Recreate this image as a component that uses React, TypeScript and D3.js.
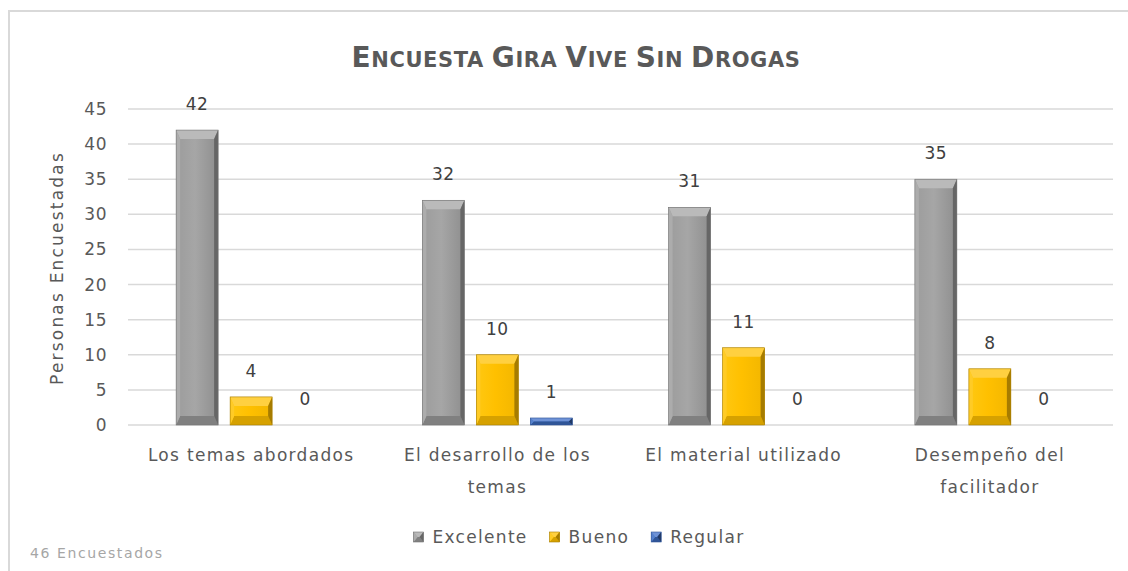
import React from "react";
import * as d3 from "d3";

const categories = [
  "Los temas abordados",
  "El desarrollo de los temas",
  "El material utilizado",
  "Desempeño del facilitador",
];
const seriesNames = ["Excelente", "Bueno", "Regular"];
const excelente = [42, 32, 31, 35];
const bueno = [4, 10, 11, 8];
const regular = [0, 1, 0, 0];
const yTicks = [0, 5, 10, 15, 20, 25, 30, 35, 40, 45];
const title = "Encuesta Gira Vive Sin Drogas";
const yTitle = "Personas Encuestadas";
const footnote = "46 Encuestados";

const W = 1128;
const H = 571;
const FONT = "'DejaVu Sans', sans-serif";

type Pal = { face: string; faceL: string; faceR: string; top: string; bottom: string; left: string; right: string; stroke: string };
const palettes: Pal[] = [
  { face: "#a6a6a6", faceL: "#9c9c9c", faceR: "#8e8e8e", top: "#bababa", bottom: "#808080", left: "#acacac", right: "#666666", stroke: "#737373" },
  { face: "#ffc000", faceL: "#ffc812", faceR: "#f2b600", top: "#ffd040", bottom: "#d6a100", left: "#ffcb26", right: "#a67c00", stroke: "#a67c00" },
  { face: "#4472c4", faceL: "#4a79cc", faceR: "#3c66b2", top: "#6e92d6", bottom: "#2f5597", left: "#5580cc", right: "#203864", stroke: "#2f5597" },
];

function measure(text: string, font: string, ls: number) {
  const c = document.createElement("canvas").getContext("2d");
  if (!c) return text.length * 9;
  c.font = font;
  return c.measureText(text).width + ls * text.length;
}

function wrap(text: string, maxW: number, font: string, ls: number) {
  const words = text.split(" ");
  const lines: string[] = [];
  let cur = "";
  for (const w of words) {
    const t = cur ? cur + " " + w : w;
    if (measure(t, font, ls) > maxW && cur) {
      lines.push(cur);
      cur = w;
    } else cur = t;
  }
  if (cur) lines.push(cur);
  return lines;
}

function Bevel({ x, y, w, h, pal, keyId }: { x: number; y: number; w: number; h: number; pal: Pal; keyId: string }) {
  if (h <= 0) return null;
  const s = Math.min(4, w / 2, h / 2);
  const t = Math.min(9, h / 2);
  const p = (pts: number[][]) => pts.map((q) => q.join(",")).join(" ");
  return (
    <g>
      <rect x={x} y={y} width={w} height={h} fill={`url(#g-${keyId})`} />
      <polygon points={p([[x, y], [x + w, y], [x + w - s, y + t], [x + s, y + t]])} fill={pal.top} />
      <polygon points={p([[x, y + h], [x + w, y + h], [x + w - s, y + h - t], [x + s, y + h - t]])} fill={pal.bottom} />
      <polygon points={p([[x, y], [x + s, y + t], [x + s, y + h - t], [x, y + h]])} fill={pal.left} />
      <polygon points={p([[x + w, y], [x + w - s, y + t], [x + w - s, y + h - t], [x + w, y + h]])} fill={pal.right} />
      <rect x={x} y={y} width={w} height={h} fill="none" stroke={pal.stroke} strokeWidth={0.6} />
    </g>
  );
}

export default function App() {
  const left = 128;
  const right = 1113;
  const y = d3.scaleLinear().domain([0, 45]).range([425, 109]);
  const x0 = d3.scaleBand<string>().domain(categories).range([left, right]).padding(0);
  const x1 = d3.scaleBand<string>().domain(seriesNames).range([-75, 75]).paddingInner(12 / 54).paddingOuter(0);
  const data = [excelente, bueno, regular];
  const labFont = `17px ${FONT}`;
  const labLS = 1.3;

  const titleWords = title.toUpperCase().split(" ");

  return (
    <svg width={W} height={H} style={{ position: "absolute", left: 0, top: 0, background: "#fff" }} fontFamily={FONT}>
      <defs>
        {palettes.map((pal, i) => (
          <linearGradient key={i} id={`g-s${i}`} x1="0" x2="1" y1="0" y2="0">
            <stop offset="0" stopColor={pal.faceL} />
            <stop offset="0.45" stopColor={pal.face} />
            <stop offset="1" stopColor={pal.faceR} />
          </linearGradient>
        ))}
      </defs>
      <rect x={9} y={11} width={W + 10} height={H + 10} fill="#fff" stroke="#d9d9d9" strokeWidth={2} />

      {/* title */}
      <text x={576} y={67} textAnchor="middle" fill="#595959" fontWeight="bold" style={{ letterSpacing: "0.6px" }}>
        {titleWords.map((w, i) => (
          <React.Fragment key={i}>
            <tspan fontSize={28}>{w[0]}</tspan>
            <tspan fontSize={21}>{w.slice(1) + (i < titleWords.length - 1 ? " " : "")}</tspan>
          </React.Fragment>
        ))}
      </text>

      {/* gridlines */}
      {yTicks.map((t) => (
        <g key={t}>
          <line x1={left} x2={right} y1={y(t)} y2={y(t)} stroke="#d9d9d9" strokeWidth={1.5} />
          <text x={107} y={y(t) + 6} textAnchor="end" fontSize={17} fill="#595959" style={{ letterSpacing: "0.5px" }}>
            {t}
          </text>
        </g>
      ))}

      {/* y title */}
      <text
        transform={`translate(63, ${(y(0) + y(45)) / 2 + 1}) rotate(-90)`}
        textAnchor="middle"
        fontSize={17}
        fill="#595959"
        style={{ letterSpacing: "2.2px" }}
      >
        {yTitle}
      </text>

      {/* bars */}
      {categories.map((c, ci) => {
        const cx = (x0(c) ?? 0) + x0.bandwidth() / 2;
        return (
          <g key={c}>
            {seriesNames.map((s, si) => {
              const v = data[si][ci];
              const bx = cx + (x1(s) ?? 0);
              const bw = x1.bandwidth();
              const top = y(v);
              return (
                <g key={s}>
                  <Bevel x={bx} y={top} w={bw} h={y(0) - top} pal={palettes[si]} keyId={`s${si}`} />
                  <text x={bx + bw / 2} y={top - 20} textAnchor="middle" fontSize={17} fill="#404040" style={{ letterSpacing: "0.5px" }}>
                    {v}
                  </text>
                </g>
              );
            })}
            {wrap(c, 228, labFont, labLS).map((line, li) => (
              <text
                key={li}
                x={cx}
                y={461 + li * 32}
                textAnchor="middle"
                fontSize={17}
                fill="#595959"
                style={{ letterSpacing: `${labLS}px` }}
              >
                {line}
              </text>
            ))}
          </g>
        );
      })}

      {/* legend */}
      {(() => {
        const items = seriesNames.map((s) => ({ s, w: measure(s, labFont, labLS) }));
        const sw = 10;
        const gap = 9;
        const itemGap = 22;
        const total = items.reduce((a, it) => a + sw + gap + it.w, 0) + itemGap * (items.length - 1);
        let cx = 579 - total / 2;
        return items.map((it, i) => {
          const gx = cx;
          cx += sw + gap + it.w + itemGap;
          return (
            <g key={it.s}>
              <Bevel x={gx} y={532} w={sw} h={sw} pal={palettes[i]} keyId={`s${i}`} />
              <text x={gx + sw + gap} y={543} fontSize={17} fill="#595959" style={{ letterSpacing: `${labLS}px` }}>
                {it.s}
              </text>
            </g>
          );
        });
      })()}

      <text x={30} y={558} fontSize={14} fill="#a6a6a6" style={{ letterSpacing: "1.6px" }}>
        {footnote}
      </text>
    </svg>
  );
}
